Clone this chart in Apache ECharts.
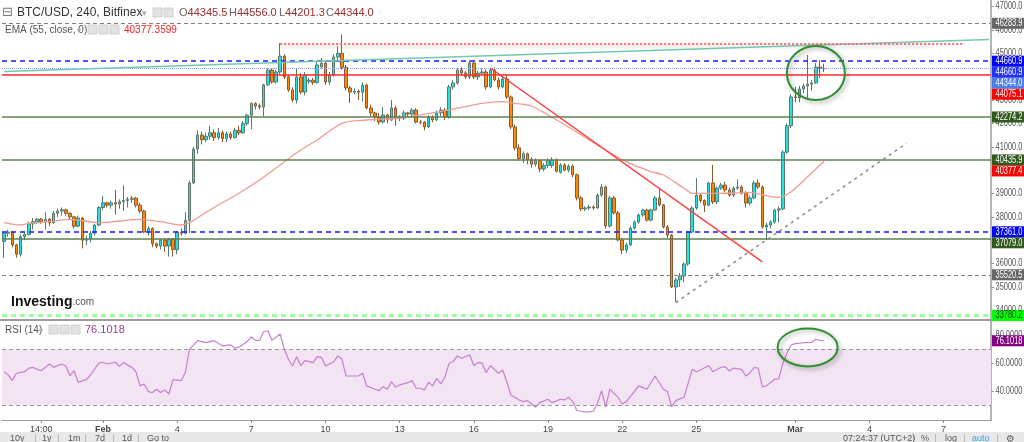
<!DOCTYPE html>
<html><head><meta charset="utf-8">
<script src="https://cdn.jsdelivr.net/npm/echarts@6/dist/echarts.min.js"></script>
<style>html,body{margin:0;padding:0;background:#fff}#c{width:1024px;height:442px}</style>
</head><body><div id="c"></div>
<script>
// ---------- DATA ----------
const slotCount = 240;               // 4h slots shown on the time axis
const startTime = Date.UTC(2022, 0, 28, 0, 0);
const categories = [];
for (let i = 0; i < slotCount; i++) categories.push(new Date(startTime + i * 4 * 3600e3).toISOString().slice(0, 16));

const xTickIndex = [9, 24, 42, 60, 78, 96, 114, 132, 150, 168, 192, 210, 228];
const xTickText  = ['14:00', 'Feb', '4', '7', '10', '13', '16', '19', '22', '25', 'Mar', '4', '7'];

// [open, close, low, high]
const candles = [
[36950,37300,36250,37350],[37300,37350,37150,37450],[37350,36800,36700,37400],[36800,36400,36250,36850],
[36400,37150,36300,37250],[37150,37250,37000,37350],[37250,37700,37200,37800],[37700,37800,37450,37950],
[37800,37900,37700,37950],[37900,37800,37700,37950],[37800,37900,37450,38200],[37900,37750,37600,37950],
[37750,38150,37700,38250],[38150,38250,38000,38350],[38250,38300,38050,38400],[38300,38150,38050,38350],
[38150,38000,37900,38200],[38000,37600,37500,38050],[37600,37950,37550,38050],[37950,37000,36650,38000],
[37000,37050,36800,37200],[37050,37300,36900,37400],[37300,37650,37200,37700],[37650,38400,37600,38450],
[38400,38600,38300,38900],[38600,38500,38400,38650],[38500,38600,38350,38700],[38600,38550,38100,39150],
[38550,38650,38350,38750],[38650,38700,38250,39350],[38700,38750,38400,38850],[38750,38800,38600,38900],
[38800,38500,38400,38850],[38500,38250,38150,38600],[38250,37350,37300,38300],[37350,37500,37200,37600],
[37500,36850,36700,37550],[36850,36750,36650,36900],[36750,37000,36600,37050],[37000,36750,36500,37100],
[36750,37050,36300,37100],[37050,36600,36300,37100],[36600,37350,36400,37400],[37350,37300,37200,37500],
[37300,37850,37250,38200],[37850,39450,37300,39550],[39450,40900,39400,41000],[40900,41500,40700,41700],
[41500,41300,41100,41650],[41300,41450,41200,41600],[41450,41600,41300,41900],[41600,41400,41250,41750],
[41400,41600,41300,41800],[41600,41350,41200,41700],[41350,41550,41200,41650],[41550,41400,41300,41650],
[41400,41700,41350,41800],[41700,41600,41500,41900],[41600,42000,41550,42100],[42000,42350,41900,42400],
[42350,42850,41750,42900],[42850,42750,42600,42900],[42750,42700,42600,42850],[42700,43650,42300,43700],
[43650,44280,43600,44350],[44280,43770,43700,44350],[43770,44200,43700,44300],[44200,44880,44100,45440],
[44880,43990,43900,44950],[43990,43430,43350,44050],[43430,43000,42900,43550],[43000,43990,42850,44330],
[43990,43340,43250,44150],[43340,44070,43200,44200],[43800,43850,43700,43950],[43850,43750,43650,43950],
[43750,44500,43700,44650],[44420,44580,44350,44800],[44580,43770,43650,44700],[43770,44070,43650,44200],
[44070,44840,44000,44950],[44840,45000,44700,45300],[45000,44400,44300,45800],[44400,43520,43400,44500],
[43520,43340,42870,43600],[43340,43380,43250,43500],[43380,43330,43000,43450],[43330,43640,42950,43750],
[43640,42660,42600,43700],[42660,42450,42300,42800],[42450,42270,42100,42500],[42270,42060,41950,42450],
[42060,42360,42000,42700],[42360,42150,42000,42400],[42150,42660,42100,43000],[42660,42270,41900,42750],
[42270,42230,42100,42350],[42230,42450,42150,42550],[42450,42400,42300,42500],[42400,42570,42300,42650],
[42570,42060,42000,42650],[42060,42050,41950,42150],[42050,41850,41700,42100],[41850,42270,41800,42350],
[42270,42150,42050,42350],[42150,42450,42100,42550],[42450,42570,42300,42700],[42570,42270,42150,42650],
[42270,43560,42200,43650],[43560,43730,43450,43850],[43730,44280,43650,44350],[44280,44160,44050,44400],
[44160,43990,43900,44250],[43990,44580,43900,44700],[44580,43990,43900,44650],[43990,44150,43850,44250],
[44150,44200,44050,44350],[44200,43560,43450,44300],[43560,44280,43500,44350],[44280,43860,43800,44400],
[43860,43560,43450,43950],[43560,43900,43500,44000],[43900,43130,43050,44050],[43130,41850,41750,43200],
[41850,40950,40850,41950],[40950,40500,40400,41100],[40500,40700,40300,40800],[40700,40450,40250,40750],
[40450,40250,40100,40550],[40250,40400,40150,40500],[40400,40050,39900,40450],[40050,40200,39950,40300],
[40200,40400,40100,40500],[40200,40430,40100,40550],[40430,39950,39900,40500],[39900,40220,39850,40300],
[40220,40000,39950,40300],[40000,40170,39900,40250],[40170,39800,39700,40250],[39800,38810,38700,39850],
[38810,38340,38250,38900],[38340,38380,38250,38450],[38380,38420,38300,38500],[38420,38380,38300,38500],
[38380,38930,38350,39000],[38930,39280,38850,39400],[39280,37610,37500,39350],[37610,38810,37550,38900],
[38810,38170,38100,38900],[38170,37010,36950,38250],[37010,36580,36400,37100],[36580,36800,36450,36900],
[36800,37520,36750,37600],[37520,37780,37450,37850],[37780,38080,37700,38150],[38080,38290,38000,38350],
[38290,37860,37800,38350],[37860,38300,37800,38350],[38300,38810,38250,38900],[38810,38510,38450,39250],
[38510,37570,37500,38550],[37570,37220,37100,37650],[37220,35000,34950,37250],[35000,35300,34360,35400],
[35300,35470,35000,35600],[35470,35980,35200,36050],[35980,37350,35900,37400],[37350,38380,37300,38450],
[38380,38930,38300,39660],[38930,38700,38600,39000],[38700,38500,38200,38750],[38500,39450,38450,39500],
[39450,38640,38550,40220],[38640,39230,38550,39300],[39230,39360,39150,39450],[39360,39150,39050,39500],
[39150,38930,38850,39250],[38930,39230,38850,39300],[39230,39280,39150,39600],[39280,39020,38950,39350],
[39020,38590,38400,39100],[38590,38810,38500,38900],[38810,39450,38750,39550],[39450,39280,39200,39600],
[39280,37570,37500,39350],[37570,37650,37000,37750],[37650,37780,37500,37850],[37780,38290,37700,38350],
[38290,38340,37750,38450],[38340,40770,38300,40850],[40770,41900,40700,42000],[41900,43130,41800,43250],
[43130,43100,42900,43560],[43100,43470,42900,43600],[43470,43600,43300,43700],[43600,43680,43000,44930],
[43680,43730,43400,43850],[43730,44410,43700,44580],[44410,44345.5,43950,44710],[44345.5,44344.0,44201.3,44556.0]
];

// EMA(55): [slot, value]
const ema = [[0,37750],[4,37651],[6,37724],[11,37792],[16,37895],[23,37750],[28,37822],[33,37895],[38,37792],
[43,37651],[45,37750],[48,38079],[52,38507],[57,39008],[62,39577],[67,40219],[72,40861],[76,41289],[82,42004],
[88,42145],[96,42231],[108,42573],[116,42860],[121,42928],[124,42860],[128,42744],[132,42359],[137,41846],
[142,41289],[146,40861],[151,40361],[157,39933],[160,39791],[165,39222],[167,39008],[173,39008],[181,39034],
[186,38863],[188,38837],[191,39077],[195,39718],[199,40377.36]];

// RSI(14): [slot, value]
const rsi = [[0,53.9],[1,51.6],[2,47.5],[3,52.8],[5,53.9],[6,56.4],[7,57.0],[8,55.6],[9,54.6],[11,59.4],[12,57.0],
[14,59.4],[15,58.0],[16,51.0],[17,54.6],[18,46.3],[20,48.2],[21,51.7],[23,60.0],[24,60.7],[25,59.4],[27,60.7],
[28,57.7],[29,60.4],[31,57.0],[32,53.9],[33,43.7],[34,45.1],[35,39.6],[36,38.9],[37,41.3],[38,38.9],[39,40.8],
[40,37.9],[41,48.2],[43,47.5],[44,53.5],[45,70.0],[47,76.2],[49,74.8],[50,75.5],[51,76.2],[53,72.4],[55,73.1],
[56,70.7],[57,71.5],[59,75.5],[60,79.0],[61,76.4],[62,76.4],[63,82.6],[64,83.3],[65,76.4],[67,81.0],[68,70.0],
[69,62.8],[70,58.0],[71,64.7],[72,58.3],[73,61.8],[75,60.4],[76,64.7],[77,64.2],[78,58.0],[80,61.1],[81,65.2],
[82,62.8],[83,50.8],[85,50.8],[86,50.8],[87,52.8],[88,43.7],[90,41.3],[91,40.3],[92,43.1],[93,41.3],[94,46.7],
[95,42.7],[96,44.4],[98,46.0],[99,47.5],[100,42.0],[101,42.0],[102,40.8],[103,46.3],[104,43.7],[105,49.2],
[106,45.1],[107,50.3],[108,60.0],[109,61.2],[110,65.2],[111,63.5],[113,65.9],[114,58.3],[115,60.4],[116,60.0],
[117,53.2],[118,58.3],[120,52.8],[121,55.1],[122,46.7],[123,37.2],[125,33.6],[126,32.4],[127,33.1],[129,28.4],
[130,31.7],[132,34.1],[133,31.7],[135,34.1],[136,33.6],[137,35.5],[138,32.4],[139,26.0],[140,25.5],[141,25.0],
[142,25.0],[143,25.5],[144,31.2],[145,40.3],[146,28.4],[147,41.4],[149,35.5],[150,30.7],[151,32.4],[153,39.7],
[154,43.7],[156,41.3],[158,50.8],[160,41.3],[161,39.6],[162,28.6],[163,33.1],[165,35.5],[167,55.6],[168,53.9],
[169,55.1],[171,58.3],[172,53.9],[174,57.1],[175,57.5],[176,54.4],[177,56.4],[179,55.6],[180,50.8],[181,53.0],
[182,56.9],[183,56.4],[184,43.1],[185,43.7],[187,48.5],[188,48.7],[189,60.0],[190,67.1],[191,73.1],[192,74.0],
[194,74.7],[196,75.0],[197,77.2],[198,76.4],[199,76.1018]];

const priceTicks = [34000,35000,36000,37000,38000,39000,40000,41000,42000,43000,44000,45000,46000,47000];
const rsiTicks = [40, 60, 80];

const levelGrayDash = [46283.9, 35520.5];
const levelBlueDash = [44660.9, 37361.0];
const levelGreen = [42274.2, 40435.9, 37079.0];
const levelRed = [44075.1];
const levelLast = [44344.0];
const levelLime = [33780.2];

const tealTrend = [[0, 44225], [239, 45595]];
const redDotted = [[67, 45428], [233, 45428]];
const downTrend = [[118, 44371], [184, 36072]];
const upTrend = [[163, 34330], [219, 41148]];

const tagValues = [46283.9, 44660.9, 44660.9, 44344.0, 44075.1, 42274.2, 40435.9, 40377.4, 37361.0, 37079.0, 35520.5, 33780.2];
const tagKinds  = ['gray', 'blue', 'blue2', 'last', 'red', 'green', 'green', 'red', 'blue', 'green', 'gray', 'lime'];
const rsiLast = 76.1018;
const header = {o: '44345.5', h: '44556.0', l: '44201.3', c: '44344.0', ema: '40377.3599', rsi: '76.1018'};
const mainCircle = [197, 44160];
const rsiCircle = [195, 71.3];

// ---------- CHART ----------
const FONT = 'Liberation Sans, Arial, sans-serif';
const tickSet = new Set(xTickIndex);
const tickMap = new Map(xTickIndex.map((v, i) => [v, xTickText[i]]));

const hLine = (v, color, type, width) => ({yAxis: v, lineStyle: {color, type, width}});
const seg = (p, color, type, width) => [
  {coord: p[0], lineStyle: {color, type, width}},
  {coord: p[1], lineStyle: {color, type, width}}
];

const markLines = [].concat(
  levelGrayDash.map(v => hLine(v, '#808080', [4, 3], 1)),
  levelBlueDash.map(v => hLine(v, '#1a1aff', [5, 4], 1.5)),
  levelLast.map(v => hLine(v, '#8ea2ff', 'dotted', 1)),
  levelRed.map(v => hLine(v, '#ff2a2a', 'solid', 1.5)),
  levelGreen.map(v => hLine(v, '#5f7f50', 'solid', 1.5)),
  levelLime.map(v => hLine(v, '#8cff8c', [5, 4], 2.5)),
  [seg(tealTrend, '#72c8b2', 'solid', 1.5),
   seg(redDotted, '#ff6a6a', 'dotted', 2),
   seg(downTrend, '#ff4040', 'solid', 1.5),
   seg(upTrend, '#8a8a8a', [3, 4], 1.5)]
);

const option = {
  animation: false,
  textStyle: {fontFamily: FONT},
  grid: [
    {left: 2, right: 33, top: 0, height: 319, containLabel: false, outerBoundsMode: 'none'},
    {left: 2, right: 33, top: 321, height: 99, containLabel: false, outerBoundsMode: 'none'}
  ],
  xAxis: [
    {type: 'category', gridIndex: 0, data: categories, boundaryGap: true,
     axisLine: {show: false}, axisTick: {show: false}, axisLabel: {show: false}, splitLine: {show: false}},
    {type: 'category', gridIndex: 1, data: categories, boundaryGap: true,
     axisLine: {show: true, lineStyle: {color: '#9a9a9a', width: 1}},
     axisTick: {show: true, interval: (i) => tickSet.has(i), alignWithLabel: true, length: 3, lineStyle: {color: '#888'}},
     axisLabel: {interval: (i) => tickSet.has(i), hideOverlap: false, margin: 5, color: '#444', fontSize: 9,
       formatter: (v, i) => { const t = tickMap.get(i) || ''; return (t === 'Feb' || t === 'Mar') ? '{b|' + t + '}' : t; },
       rich: {b: {fontWeight: 'bold', color: '#444', fontSize: 9}}},
     splitLine: {show: false}}
  ],
  yAxis: [
    {type: 'value', gridIndex: 0, position: 'right', min: 33628, max: 47281,
     axisLine: {show: true, lineStyle: {color: '#b4b4b4', width: 2}},
     axisTick: {show: true, length: 3, customValues: priceTicks, lineStyle: {color: '#999'}},
     axisLabel: {show: false},
     splitLine: {show: false}},
    {type: 'value', gridIndex: 1, position: 'right', min: 19.2, max: 90.3,
     axisLine: {show: true, lineStyle: {color: '#b4b4b4', width: 2}},
     axisTick: {show: true, length: 3, customValues: rsiTicks, lineStyle: {color: '#999'}},
     axisLabel: {show: false},
     splitLine: {show: false}}
  ],
  series: [
    {type: 'candlestick', xAxisIndex: 0, yAxisIndex: 0, data: candles, barWidth: 3,
     itemStyle: {color: '#22e3e3', color0: '#ff8c00', borderColor: '#587a6e', borderColor0: '#8a5a30', borderWidth: 1},
     markLine: {silent: true, symbol: ['none', 'none'], label: {show: false}, data: markLines},
     markArea: {silent: true, itemStyle: {color: 'rgba(0,0,0,0.05)'},
       data: [[{coord: redDotted[0]}, {coord: [225, 45200]}]]}},
    {type: 'line', xAxisIndex: 0, yAxisIndex: 0, data: ema, showSymbol: false, smooth: 0.3,
     lineStyle: {color: '#f29a92', width: 1.3}},
    {type: 'line', xAxisIndex: 1, yAxisIndex: 1, data: rsi, showSymbol: false,
     lineStyle: {color: '#c77fce', width: 1.2},
     markArea: {silent: true, itemStyle: {color: '#f2e4f2'}, data: [[{yAxis: 30}, {yAxis: 70}]]},
     markLine: {silent: true, symbol: ['none', 'none'], label: {show: false},
       lineStyle: {color: '#999', type: [4, 3], width: 1}, data: [{yAxis: 70}, {yAxis: 30}]}}
  ]
};

const chart = echarts.init(document.getElementById('c'), null, {renderer: 'canvas'});
chart.setOption(option);

// ---------- ANNOTATIONS ----------
const tagStyle = {
  gray: {bg: '#666666', fg: '#ffffff'}, blue: {bg: '#0000ff', fg: '#ffffff'}, blue2: {bg: '#2233ff', fg: '#ffffff'},
  last: {bg: '#4a7ef0', fg: '#ffffff'}, red: {bg: '#ff0000', fg: '#ffffff'}, green: {bg: '#2f5a1c', fg: '#ffffff'},
  lime: {bg: '#00ff00', fg: '#224422'}
};
const g = [];
const txt = (x, y, text, font, fill, extra) => ({type: 'text', z: 100, style: Object.assign({x, y, text, font, fill, verticalAlign: 'middle'}, extra || {})});
const axisTxt = (x, y, text, fill, z) => ({type: 'text', x, y, scaleX: 0.71, z: z, style: {x: 0, y: 0, text, font: '10.5px ' + FONT, fill, verticalAlign: 'middle'}});
const icon = (x, y) => ({type: 'rect', z: 100, shape: {x, y, width: 9, height: 9}, style: {fill: '#e2e2e2', stroke: '#d0d0d0'}});

// axis labels
priceTicks.forEach(v => g.push(axisTxt(995.5, chart.convertToPixel({yAxisIndex: 0}, v), v.toFixed(1), '#555', 98)));
rsiTicks.forEach(v => g.push(axisTxt(995.5, chart.convertToPixel({yAxisIndex: 1}, v), v.toFixed(4), '#555', 98)));

// price tags (stacked so they never overlap)
let tags = tagValues.map((v, i) => ({v, k: tagKinds[i], y: chart.convertToPixel({yAxisIndex: 0}, v)}));
tags.sort((a, b) => a.y - b.y);
let prev = -100;
tags.forEach(t => { t.y = Math.max(t.y, prev + 11); prev = t.y; });
tags.forEach(t => {
  const s = tagStyle[t.k];
  g.push({type: 'rect', z: 100, shape: {x: 992, y: t.y - 5.5, width: 32, height: 11}, style: {fill: s.bg}});
  g.push(axisTxt(995.5, t.y, t.v.toFixed(1), s.fg, 101));
});
const ry = chart.convertToPixel({yAxisIndex: 1}, rsiLast);
g.push({type: 'rect', z: 100, shape: {x: 992, y: ry - 5.5, width: 32, height: 11}, style: {fill: '#800080'}});
g.push(axisTxt(995.5, ry, rsiLast.toFixed(4), '#ffffff', 101));

// pane separator
g.push({type: 'rect', z: 99, shape: {x: 0, y: 319, width: 1024, height: 2}, style: {fill: '#9c9c9c'}});

// ellipses
const c1 = chart.convertToPixel({gridIndex: 0}, mainCircle);
const c2 = chart.convertToPixel({gridIndex: 1}, rsiCircle);
const ell = (c, rx, ryy) => ({type: 'ellipse', z: 100, shape: {cx: c[0], cy: c[1], rx, ry: ryy},
  style: {fill: 'none', stroke: '#2e8f2e', lineWidth: 2, shadowBlur: 4, shadowColor: 'rgba(0,0,0,0.35)', shadowOffsetX: 2, shadowOffsetY: 2}});
g.push(ell(c1, 29, 27));
g.push(ell(c2, 30, 19));

// header
g.push(txt(2, 13, '⊟', '13px DejaVu Sans', '#777'));
g.push(txt(17, 13, 'BTC/USD, 240, Bitfinex', '12px ' + FONT, '#333'));
g.push(txt(142, 14, '▾', '9px DejaVu Sans', '#aaa'));
g.push(icon(153, 8)); g.push(icon(164, 8));
[['O', header.o, 179], ['H', header.h, 229], ['L', header.l, 279], ['C', header.c, 326]].forEach(a => {
  g.push({type: 'text', z: 100, style: {x: a[2], y: 13, verticalAlign: 'middle',
    text: '{l|' + a[0] + '}{v|' + a[1] + '}',
    rich: {l: {font: '11px ' + FONT, fill: '#666'}, v: {font: '11px ' + FONT, fill: '#9b2c2c'}}}});
});
g.push(txt(5, 30, 'EMA (55, close, 0)', '10px ' + FONT, '#555'));
g.push(txt(77, 31, '▾', '8px DejaVu Sans', '#aaa'));
g.push(icon(88, 25)); g.push(icon(99, 25)); g.push(icon(110, 25));
g.push(txt(124, 30, header.ema, '10px ' + FONT, '#ff2020'));

// RSI header
g.push(txt(5, 330, 'RSI (14)', '10px ' + FONT, '#555'));
g.push(txt(39, 331, '▾', '8px DejaVu Sans', '#aaa'));
g.push(icon(49, 325)); g.push(icon(60, 325)); g.push(icon(71, 325));
g.push(txt(85, 330, header.rsi, '11px ' + FONT, '#9a3c9a'));

// logo
g.push({type: 'text', z: 100, style: {x: 11, y: 302, verticalAlign: 'middle', text: '{a|Investing}{b|.com}',
  rich: {a: {font: 'bold 14px ' + FONT, fill: '#111'}, b: {font: '10px ' + FONT, fill: '#555'}}}});

// bottom toolbar
g.push({type: 'rect', z: 99, shape: {x: 0, y: 432, width: 1024, height: 10}, style: {fill: '#e8e8e8'}});
[['10y', 10], ['1y', 42], ['1m', 68], ['7d', 95], ['1d', 122], ['Go to', 147]].forEach(a => g.push(txt(a[1], 439, a[0], '9px ' + FONT, '#555')));
[35, 58, 85, 113, 138, 913, 935, 964, 997].forEach(x => g.push({type: 'rect', z: 100, shape: {x, y: 434, width: 1, height: 8}, style: {fill: '#bbb'}}));
g.push(txt(843, 439, '07:24:37 (UTC+2)', '9px ' + FONT, '#555'));
g.push(txt(921, 439, '%', '9px ' + FONT, '#555'));
g.push(txt(945, 439, 'log', '9px ' + FONT, '#555'));
g.push(txt(972, 439, 'auto', '9px ' + FONT, '#3aa0e0'));
g.push(txt(1006, 439, '⚙', '10px DejaVu Sans', '#666'));

chart.setOption({graphic: g});
</script>
</body></html>
